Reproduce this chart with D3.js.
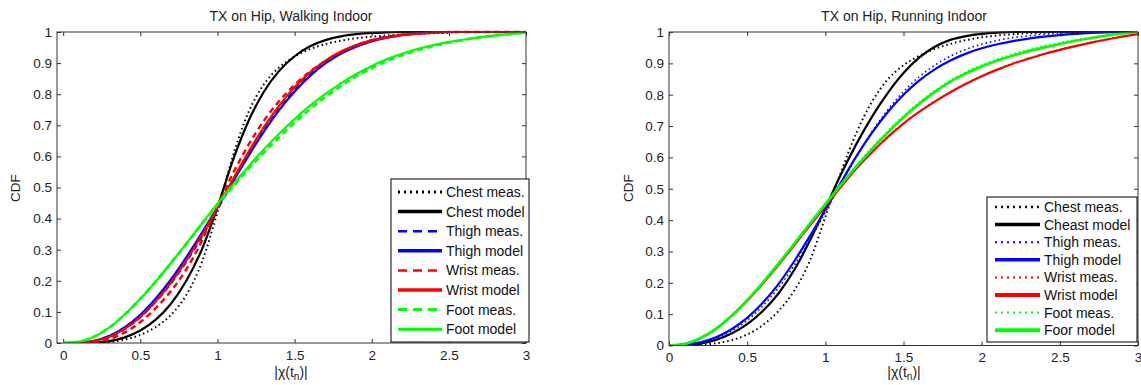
<!DOCTYPE html>
<html><head><meta charset="utf-8">
<script src="https://cdn.jsdelivr.net/npm/d3@7/dist/d3.min.js"></script>
<style>
html,body{margin:0;padding:0;background:#fff;}
svg{display:block;font-family:"Liberation Sans",Arial,sans-serif;}
</style></head>
<body>
<svg id="chart" width="1141" height="385"></svg>
<script>
// ---------- data ----------
const xs = [0,0.1,0.2,0.3,0.4,0.5,0.6,0.7,0.8,0.9,1.0,1.1,1.2,1.3,1.4,1.5,1.6,1.7,1.8,1.9,2.0,2.1,2.2,2.3,2.4,2.5,2.6,2.7,2.8,2.9,3.0];

// Walking indoor
const walkChestMeas  = [0,0,0,0.003,0.011,0.026,0.051,0.091,0.156,0.261,0.421,0.601,0.741,0.831,0.886,0.921,0.945,0.961,0.972,0.98,0.985,0.989,0.992,0.994,0.996,0.998,1,1,1,1,1];
const walkChestModel = [0,0,0.001,0.006,0.018,0.04,0.075,0.127,0.202,0.302,0.437,0.587,0.712,0.807,0.875,0.922,0.954,0.974,0.986,0.993,0.997,0.999,1,1,1,1,1,1,1,1,1];
const walkThighMeas  = [0,0,0.005,0.019,0.045,0.083,0.133,0.193,0.263,0.343,0.43,0.518,0.604,0.684,0.754,0.814,0.864,0.904,0.935,0.958,0.974,0.985,0.992,0.996,0.998,1,1,1,1,1,1];
const walkThighModel = [0,0.001,0.007,0.023,0.051,0.091,0.143,0.205,0.277,0.355,0.436,0.519,0.601,0.679,0.749,0.809,0.859,0.899,0.93,0.953,0.97,0.982,0.99,0.995,0.998,1,1,1,1,1,1];
const walkWristMeas  = [0,0,0.003,0.013,0.034,0.067,0.112,0.168,0.238,0.33,0.44,0.545,0.636,0.714,0.778,0.83,0.873,0.907,0.935,0.957,0.972,0.983,0.99,0.995,0.998,1,1,1,1,1,1];
const walkWristModel = [0,0.001,0.006,0.02,0.046,0.084,0.134,0.195,0.267,0.348,0.436,0.526,0.613,0.693,0.763,0.822,0.87,0.908,0.937,0.958,0.973,0.984,0.991,0.995,0.998,1,1,1,1,1,1];
const walkFootMeas   = [0,0.004,0.02,0.05,0.092,0.142,0.198,0.258,0.32,0.383,0.444,0.503,0.559,0.612,0.662,0.709,0.752,0.791,0.826,0.857,0.884,0.907,0.926,0.942,0.955,0.966,0.975,0.983,0.989,0.994,0.998];
const walkFootModel  = [0,0.004,0.02,0.05,0.092,0.142,0.198,0.258,0.321,0.385,0.448,0.509,0.567,0.622,0.673,0.72,0.763,0.801,0.835,0.865,0.891,0.913,0.931,0.946,0.958,0.968,0.976,0.983,0.989,0.994,0.998];

// Running indoor
const runChestMeas  = [0,0,0.002,0.007,0.017,0.035,0.065,0.11,0.174,0.269,0.41,0.553,0.68,0.779,0.849,0.894,0.924,0.946,0.962,0.974,0.983,0.989,0.993,0.996,0.998,1,1,1,1,1,1];
const runChestModel = [0,0.001,0.006,0.018,0.038,0.068,0.11,0.166,0.24,0.333,0.438,0.546,0.644,0.731,0.806,0.869,0.918,0.953,0.975,0.987,0.994,0.998,1,1,1,1,1,1,1,1,1];
const runThighMeas  = [0,0.001,0.008,0.022,0.046,0.08,0.126,0.184,0.255,0.336,0.425,0.515,0.603,0.683,0.752,0.81,0.857,0.894,0.923,0.945,0.961,0.973,0.982,0.988,0.993,0.996,0.998,0.999,1,1,1];
const runThighModel = [0,0.002,0.01,0.026,0.052,0.088,0.136,0.196,0.268,0.348,0.433,0.52,0.605,0.68,0.745,0.80,0.845,0.881,0.909,0.931,0.948,0.961,0.971,0.979,0.985,0.99,0.994,0.997,0.999,1,1];
const runWristMeas  = [0,0.005,0.023,0.053,0.094,0.143,0.198,0.257,0.319,0.382,0.444,0.506,0.565,0.618,0.667,0.709,0.746,0.779,0.809,0.836,0.86,0.881,0.9,0.916,0.931,0.944,0.956,0.967,0.977,0.986,0.994];
const runWristModel = [0,0.005,0.023,0.053,0.094,0.143,0.198,0.257,0.319,0.382,0.444,0.506,0.565,0.617,0.665,0.708,0.745,0.778,0.808,0.835,0.859,0.88,0.899,0.915,0.93,0.943,0.955,0.966,0.976,0.985,0.993];
const runFootMeas   = [0,0.005,0.023,0.053,0.095,0.145,0.201,0.261,0.324,0.388,0.451,0.514,0.575,0.632,0.685,0.733,0.776,0.814,0.846,0.873,0.895,0.914,0.93,0.944,0.956,0.966,0.975,0.983,0.99,0.995,0.999];
const runFootModel  = [0,0.005,0.023,0.053,0.095,0.145,0.201,0.261,0.324,0.388,0.451,0.513,0.572,0.628,0.68,0.728,0.771,0.809,0.842,0.868,0.89,0.909,0.925,0.939,0.951,0.962,0.972,0.981,0.989,0.995,0.999];

const xTicks = [0,0.5,1,1.5,2,2.5,3];
const xTickLabels = ["0","0.5","1","1.5","2","2.5","3"];
const yTicks = [0,0.1,0.2,0.3,0.4,0.5,0.6,0.7,0.8,0.9,1];
const yTickLabels = ["0","0.1","0.2","0.3","0.4","0.5","0.6","0.7","0.8","0.9","1"];

const walkTitle = "TX on Hip, Walking Indoor";
const runTitle = "TX on Hip, Running Indoor";
const walkLegend = ["Chest meas.","Chest model","Thigh meas.","Thigh model","Wrist meas.","Wrist model","Foot meas.","Foot model"];
const runLegend  = ["Chest meas.","Cheast model","Thigh meas.","Thigh model","Wrist meas.","Wrist model","Foot meas.","Foor model"];
const colors = ["#000000","#000000","#0000ff","#0000ff","#ff0000","#ff0000","#00ff00","#00ff00"];

// ---------- drawing ----------
const svg = d3.select("#chart");
const AX = "#333";

function panel(cfg){
  const x = d3.scaleLinear().domain(cfg.xdom).range(cfg.xr);
  const y = d3.scaleLinear().domain([0,1]).range(cfg.yr);
  const g = svg.append("g");
  const x0 = cfg.xr[0], x1 = cfg.xr[1], y0 = cfg.yr[0], y1 = cfg.yr[1];

  const fx = d=>xTickLabels[xTicks.indexOf(d)];
  const fy = d=>yTickLabels[yTicks.indexOf(d)];
  const bottom = g.append("g").attr("transform",`translate(0,${y0})`)
    .call(d3.axisBottom(x).tickValues(xTicks).tickFormat(fx).tickSizeInner(-4).tickSizeOuter(0).tickPadding(7));
  const top = g.append("g").attr("transform",`translate(0,${y1})`)
    .call(d3.axisBottom(x).tickValues(xTicks).tickFormat("").tickSizeInner(4).tickSizeOuter(0));
  const left = g.append("g").attr("transform",`translate(${x0},0)`)
    .call(d3.axisLeft(y).tickValues(yTicks).tickFormat(fy).tickSizeInner(-4).tickSizeOuter(0).tickPadding(5));
  const right = g.append("g").attr("transform",`translate(${x1},0)`)
    .call(d3.axisLeft(y).tickValues(yTicks).tickFormat("").tickSizeInner(4).tickSizeOuter(0));
  [bottom,top,left,right].forEach(a=>{
    a.select(".domain").remove();
    a.selectAll("line").attr("stroke",AX);
    a.selectAll("text").attr("fill","#222").style("font-size","13.5px").style("font-family","Liberation Sans, Arial, sans-serif");
  });

  const line = d3.line().x((d,i)=>x(xs[i])).y(d=>y(d)).curve(d3.curveMonotoneX);
  const clipId = "clip"+cfg.id;
  g.append("clipPath").attr("id",clipId).append("rect").attr("x",x0).attr("y",y1-2).attr("width",x1-x0).attr("height",y0-y1+2);
  const cg = g.append("g").attr("clip-path",`url(#${clipId})`);
  cfg.series.forEach((s,i)=>{
    cg.append("path").datum(s).attr("fill","none")
      .attr("stroke",colors[i])
      .attr("stroke-width",cfg.styles[i].w)
      .attr("stroke-dasharray",cfg.styles[i].dash)
      .attr("d",line);
  });

  g.append("rect").attr("x",x0).attr("y",y1).attr("width",x1-x0).attr("height",y0-y1)
    .attr("fill","none").attr("stroke",AX).attr("stroke-width",1);

  g.append("text").attr("x",cfg.titleX).attr("y",21).attr("text-anchor","middle")
    .style("font-size","14px").attr("fill","#222").text(cfg.title);
  g.append("text").attr("transform",`translate(${cfg.ylabX},188) rotate(-90)`).attr("text-anchor","middle")
    .style("font-size","13.5px").attr("fill","#222").text("CDF");
  const xl = g.append("text").attr("x",cfg.titleX).attr("y",377).attr("text-anchor","middle")
    .style("font-size","14px").attr("fill","#222");
  xl.append("tspan").text("|\u03c7(t");
  xl.append("tspan").attr("dy",3).style("font-size","10px").text("n");
  xl.append("tspan").attr("dy",-3).text(")|");

  const L = cfg.legend;
  g.append("rect").attr("x",L.x0).attr("y",L.y0).attr("width",L.x1-L.x0).attr("height",L.y1-L.y0)
    .attr("fill","#fff").attr("stroke","#000").attr("stroke-width",1);
  cfg.labels.forEach((lab,i)=>{
    const yy = L.first + i*L.step;
    g.append("line").attr("x1",L.lx0).attr("x2",L.lx1).attr("y1",yy).attr("y2",yy)
      .attr("stroke",colors[i]).attr("stroke-width",L.styles[i].w).attr("stroke-dasharray",L.styles[i].dash);
    g.append("text").attr("x",L.tx).attr("y",yy+5).style("font-size","14px").attr("fill","#111").text(lab);
  });
}

const solid = {w:2.2, dash:null};
panel({
  id:"walk", title:walkTitle, titleX:291, ylabX:20,
  xdom:[-0.04,3], xr:[57,526], yr:[343,32],
  series:[walkChestMeas,walkChestModel,walkThighMeas,walkThighModel,walkWristMeas,walkWristModel,walkFootMeas,walkFootModel],
  styles:[{w:2,dash:"1.5,3"},solid,{w:2.2,dash:"6,4"},solid,{w:2.4,dash:"6,4"},solid,{w:2.6,dash:"6,4"},{w:2.2,dash:null}],
  labels:walkLegend,
  legend:{x0:391,x1:529,y0:179,y1:342,first:192,step:19.6,lx0:398,lx1:442,tx:446,
    styles:[{w:3,dash:"2,4"},{w:3.5,dash:null},{w:2.5,dash:"9,6"},{w:3.5,dash:null},{w:2.5,dash:"9,6"},{w:3.5,dash:null},{w:3,dash:"9,6"},{w:3,dash:null}]}
});
panel({
  id:"run", title:runTitle, titleX:904, ylabX:633,
  xdom:[0,3], xr:[669,1138], yr:[345.5,32],
  series:[runChestMeas,runChestModel,runThighMeas,runThighModel,runWristMeas,runWristModel,runFootMeas,runFootModel],
  styles:[{w:2,dash:"1.5,3"},solid,{w:1.6,dash:"1.5,3"},solid,{w:1.6,dash:"1.5,3"},solid,{w:1.6,dash:"1.5,3"},{w:2.6,dash:null}],
  labels:runLegend,
  legend:{x0:987,x1:1137,y0:197,y1:342,first:207,step:17.6,lx0:995,lx1:1040,tx:1044,
    styles:[{w:2.5,dash:"2,4"},{w:3.5,dash:null},{w:2,dash:"2,4"},{w:3.5,dash:null},{w:2,dash:"2,4"},{w:4,dash:null},{w:2,dash:"2,4"},{w:4,dash:null}]}
});
</script>
</body></html>
